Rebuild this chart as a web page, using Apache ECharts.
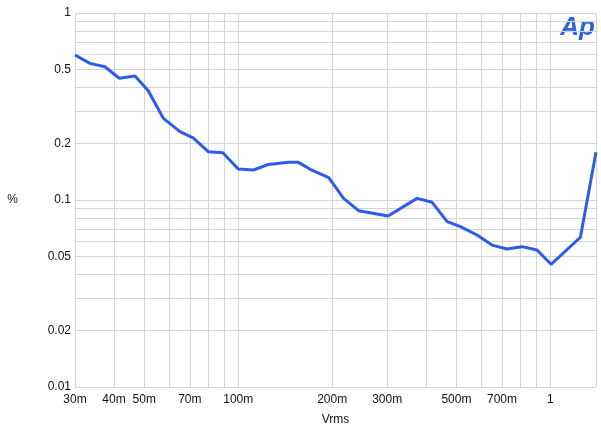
<!DOCTYPE html>
<html>
<head>
<meta charset="utf-8">
<script src="https://cdn.jsdelivr.net/npm/echarts@6/dist/echarts.min.js"></script>
<style>
  html, body { margin: 0; padding: 0; background: #fff; }
  #chart { width: 601px; height: 427px; }
</style>
</head>
<body>
<div id="chart"></div>
<script>
// measured curve: THD+N (%) vs output level (Vrms)
const vrms = [0.03, 0.0335, 0.0374, 0.0416, 0.0467, 0.0515, 0.0576, 0.0651, 0.0719, 0.0803,
  0.0893, 0.1, 0.112, 0.125, 0.145, 0.156, 0.170, 0.195, 0.2175, 0.243, 0.302, 0.374,
  0.418, 0.467, 0.515, 0.582, 0.650, 0.726, 0.811, 0.906, 1.005, 1.248, 1.40];
const thd = [0.596, 0.538, 0.516, 0.448, 0.460, 0.384, 0.273, 0.232, 0.214, 0.181,
  0.179, 0.1465, 0.1447, 0.155, 0.159, 0.159, 0.146, 0.1316, 0.102, 0.0877, 0.0821, 0.102,
  0.0972, 0.0766, 0.072, 0.065, 0.0574, 0.0547, 0.0563, 0.054, 0.0453, 0.0632, 0.180];

const xMin = 0.03, xMax = 1.4;
const yMin = 0.01, yMax = 1;
const xGrid = [0.03, 0.04, 0.05, 0.06, 0.07, 0.08, 0.09, 0.1, 0.2, 0.3, 0.4, 0.5, 0.6, 0.7, 0.8, 0.9, 1, 1.4];
const xLabels = [0.03, 0.04, 0.05, 0.07, 0.1, 0.2, 0.3, 0.5, 0.7, 1];
const yGrid = [0.01, 0.02, 0.03, 0.04, 0.05, 0.06, 0.07, 0.08, 0.09, 0.1, 0.2, 0.3, 0.4, 0.5, 0.6, 0.7, 0.8, 0.9, 1];
const yLabels = [0.01, 0.02, 0.05, 0.1, 0.2, 0.5, 1];

const lg = (v) => Math.log10(v);

function fmtV(v) {
  const n = Math.pow(10, v);
  if (n < 0.999) return Math.round(n * 1000) + 'm';
  return String(Math.round(n));
}
function fmtP(v) {
  const n = Math.pow(10, v);
  return String(parseFloat(n.toPrecision(2)));
}

const chart = echarts.init(document.getElementById('chart'));
const labelFont = { fontFamily: 'Liberation Sans, Arial, sans-serif', fontSize: 12, color: '#111' };
const gridLine = { show: true, lineStyle: { color: '#d4d4d4', width: 1 } };

chart.setOption({
  animation: false,
  grid: { left: 75, right: 5, top: 13, bottom: 40, outerBoundsMode: 'none' },
  xAxis: {
    type: 'value',
    min: lg(xMin),
    max: lg(xMax),
    name: 'Vrms',
    nameLocation: 'middle',
    nameGap: 27,
    nameTextStyle: labelFont,
    axisLine: { show: false },
    axisTick: { show: false, customValues: xGrid.map(lg) },
    axisLabel: { ...labelFont, margin: 7, customValues: xLabels.map(lg), formatter: fmtV },
    splitLine: gridLine
  },
  yAxis: {
    type: 'value',
    min: lg(yMin),
    max: lg(yMax),
    name: '%',
    nameLocation: 'middle',
    nameRotate: 0,
    nameGap: 57,
    nameTextStyle: labelFont,
    axisLine: { show: false },
    axisTick: { show: false, customValues: yGrid.map(lg) },
    axisLabel: { ...labelFont, margin: 4, customValues: yLabels.map(lg), formatter: fmtP },
    splitLine: gridLine
  },
  graphic: [{
    type: 'text',
    right: 6,
    top: 15,
    style: {
      text: 'Ap',
      font: 'italic bold 26px Liberation Sans, Arial, sans-serif',
      fill: '#2f62e0'
    }
  }],
  series: [{
    type: 'line',
    data: vrms.map((v, i) => [lg(v), lg(thd[i])]),
    showSymbol: false,
    lineStyle: { color: '#2c5de8', width: 3 },
    z: 5
  }]
});
</script>
</body>
</html>
